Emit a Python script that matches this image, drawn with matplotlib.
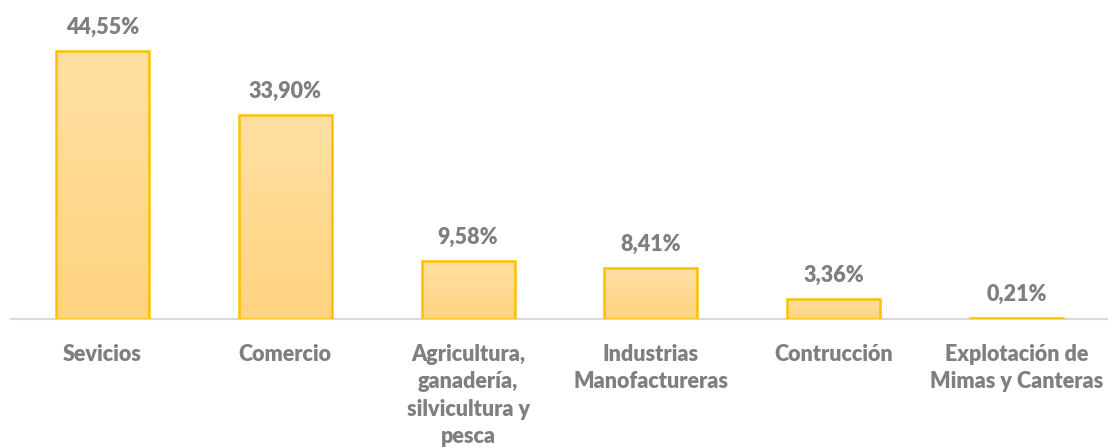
import matplotlib
matplotlib.use("Agg")
import matplotlib.pyplot as plt
import numpy as np
from matplotlib.colors import LinearSegmentedColormap

categories = ["Sevicios", "Comercio", "Agricultura,\nganadería,\nsilvicultura y\npesca",
              "Industrias\nManofactureras", "Contrucción", "Explotación de\nMimas y Canteras"]
values = [44.55, 33.90, 9.58, 8.41, 3.36, 0.21]
value_labels = ["44,55%", "33,90%", "9,58%", "8,41%", "3,36%", "0,21%"]

plt.rcParams['font.family'] = ['Lato', 'DejaVu Sans']

fig = plt.figure(figsize=(11.08, 4.47), dpi=100)
ax = fig.add_axes([11/1108, 1 - 319/447, 1097/1108, 319/447])

x = np.arange(len(categories))
width = 0.508
bars = ax.bar(x, values, width=width, color="none", edgecolor="#FFC000", linewidth=1.8, zorder=5)

cmap = LinearSegmentedColormap.from_list("g", ["#FFD37F", "#FFE0A3"])
grad = np.linspace(0, 1, 256).reshape(-1, 1)
for b in bars:
    x0, y0 = b.get_x(), b.get_y()
    w, h = b.get_width(), b.get_height()
    im = ax.imshow(grad, cmap=cmap, extent=[x0, x0 + w, y0, y0 + h], origin="lower",
                   aspect="auto", zorder=2, interpolation="bicubic")
    im.set_clip_path(b)

ax.set_xlim(-0.5, len(categories) - 0.5)
ax.set_ylim(0, 53.0)

for xi, v, lab in zip(x, values, value_labels):
    ax.text(xi, v + 2.2, lab, ha="center", va="bottom", fontsize=15.5, fontweight="heavy", color="#7F7F7F")

ax.set_xticks(x)
ax.set_xticklabels(categories, fontsize=15.5, fontweight="heavy", color="#7F7F7F", linespacing=1.37, va="top")
ax.tick_params(axis="x", length=0, pad=18)
ax.set_yticks([])
for s in ["top", "right", "left"]:
    ax.spines[s].set_visible(False)
ax.spines["bottom"].set_color("#D9D9D9")
ax.spines["bottom"].set_linewidth(1.5)
ax.spines["bottom"].set_zorder(4)

fig.savefig("out.png", dpi=100)
